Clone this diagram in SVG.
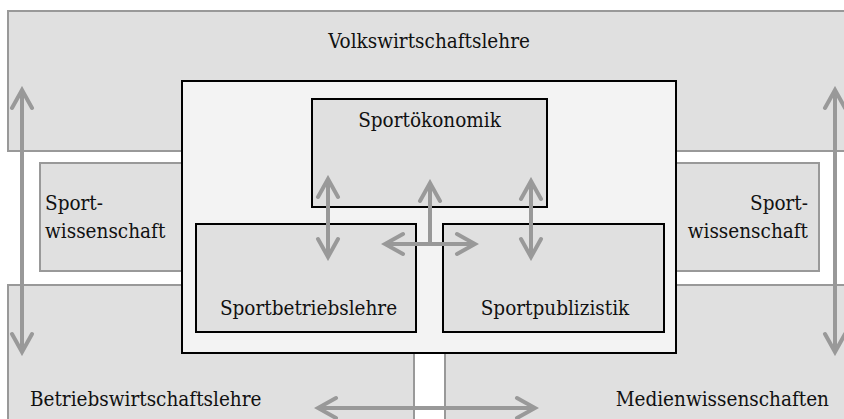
<svg xmlns="http://www.w3.org/2000/svg" width="844" height="419" viewBox="0 0 844 419">
<style>
.outer{fill:#e0e0e0;stroke:#999;stroke-width:2}
.inner{fill:#e0e0e0;stroke:#000;stroke-width:2}
.frame{fill:#f3f3f3;stroke:#000;stroke-width:2}
text{font-family:'DejaVu Serif Condensed','DejaVu Serif',serif;font-stretch:condensed;font-size:20.5px;fill:#111}
.arr{stroke:#999;stroke-width:4;fill:none;marker-end:url(#ah);marker-start:url(#ah)}
.arr1{stroke:#999;stroke-width:4;fill:none;marker-end:url(#ah)}
</style>
<defs>
<marker id="ah" markerUnits="userSpaceOnUse" viewBox="-22 -14 26 28" markerWidth="26" markerHeight="28" refX="0" refY="0" orient="auto-start-reverse">
<path d="M-18,-10 L0,0 L-18,10" fill="none" stroke="#999" stroke-width="4" stroke-linecap="round"/>
</marker>
</defs>
<rect width="844" height="419" fill="#fff"/>
<g id="vwl"><rect class="outer" x="8" y="11" width="846" height="140"/><text x="429" y="48" text-anchor="middle">Volkswirtschaftslehre</text></g>
<g id="bwl"><rect class="outer" x="8" y="285" width="406" height="150"/><text x="30" y="406">Betriebswirtschaftslehre</text></g>
<g id="medien"><rect class="outer" x="445" y="285" width="410" height="150"/><text x="829" y="406" text-anchor="end">Medienwissenschaften</text></g>
<g id="sportwiss-l"><rect class="outer" x="40" y="163" width="160" height="108"/><text x="45" y="210">Sport-</text><text x="45" y="238">wissenschaft</text></g>
<g id="sportwiss-r"><rect class="outer" x="660" y="163" width="159" height="108"/><text x="808" y="210" text-anchor="end">Sport-</text><text x="808" y="238" text-anchor="end">wissenschaft</text></g>
<g id="frame"><rect class="frame" x="182" y="81" width="494" height="272"/></g>
<g id="sportoek"><rect class="inner" x="312" y="99" width="235" height="108"/><text x="429.5" y="127" text-anchor="middle">Sportökonomik</text></g>
<g id="sportbwl"><rect class="inner" x="196" y="224" width="220" height="108"/><text x="308.5" y="315" text-anchor="middle">Sportbetriebslehre</text></g>
<g id="sportpub"><rect class="inner" x="443" y="224" width="221" height="108"/><text x="555" y="315" text-anchor="middle">Sportpublizistik</text></g>
<g id="connectors">
<line class="arr" x1="22" y1="90" x2="22" y2="352"/>
<line class="arr" x1="835" y1="90" x2="835" y2="352"/>
<line class="arr" x1="328" y1="179" x2="328" y2="257"/>
<line class="arr" x1="531" y1="181" x2="531" y2="257"/>
<line class="arr1" x1="430" y1="244" x2="430" y2="183"/>
<line class="arr" x1="385" y1="244" x2="475" y2="244"/>
<line class="arr" x1="318" y1="408" x2="535" y2="408"/>
</g>
</svg>
